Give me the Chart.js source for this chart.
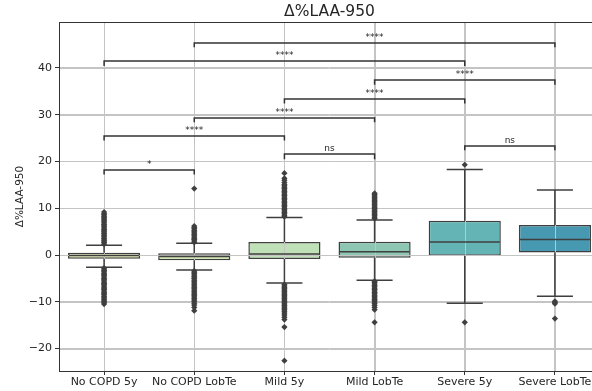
<!DOCTYPE html>
<html>
<head>
<meta charset="utf-8">
<script src="https://cdn.jsdelivr.net/npm/chart.js@4"></script>
<style>
  html, body { margin: 0; padding: 0; overflow: hidden; background: #fff; }
  #wrap { width: 620px; height: 391px; }
</style>
</head>
<body>
<div id="wrap"><canvas id="boxChart"></canvas></div>
<script>
// groups on the x axis
var groups = ["No COPD 5y", "No COPD LobTe", "Mild 5y", "Mild LobTe", "Severe 5y", "Severe LobTe"];
var boxColors = ["#e5efb8", "#d7ecb3", "#c0e1b8", "#8dc6b3", "#64b4b6", "#4799b1"];

// box stats
var q1 = [-0.8, -1.1, -0.85, -0.6, -0.15, 0.55];
var q3 = [0.5, 0.35, 2.8, 2.85, 7.35, 6.4];
var median = [-0.1, -0.3, 0.2, 0.7, 2.8, 3.3];
var whiskLo = [-2.6, -3.2, -6.0, -5.4, -10.3, -8.8];
var whiskHi = [2.1, 2.5, 8.0, 7.5, 18.3, 13.9];

// outliers per group
var outNoCopd5y = [2.3, 2.6, 2.8, 3.1, 3.4, 3.6, 3.9, 4.2, 4.5, 4.7, 5.0, 5.3, 5.5, 5.8, 6.1, 6.4, 6.6, 6.9, 7.2, 7.5, 7.7, 8.0, 8.3, 8.6, 8.8, 9.2,
  -2.8, -3.0, -3.3, -3.6, -3.9, -4.1, -4.4, -4.7, -5.0, -5.2, -5.5, -5.8, -6.1, -6.3, -6.6, -6.9, -7.2, -7.4, -7.7, -8.0, -8.3, -8.5, -8.8, -9.1, -9.4, -9.6, -9.9, -10.2, -10.5];
var outNoCopdLob = [2.7, 3.0, 3.3, 3.5, 3.8, 4.1, 4.4, 4.7, 5.0, 5.3, 5.6, 5.9, 6.2, 14.2,
  -3.4, -3.7, -4.0, -4.3, -4.6, -4.9, -5.1, -5.4, -5.7, -6.0, -6.3, -6.6, -6.9, -7.2, -7.5, -7.8, -8.1, -8.4, -8.7, -9.0, -9.3, -9.6, -9.9, -10.3, -10.7, -11.2, -11.9];
var outMild5y = [8.2, 8.5, 8.8, 9.1, 9.4, 9.7, 10.0, 10.3, 10.6, 10.9, 11.2, 11.5, 11.8, 12.1, 12.4, 12.7, 13.0, 13.3, 13.6, 13.9, 14.2, 14.5, 14.8, 15.1, 15.5, 16.0, 16.4, 17.5,
  -6.3, -6.6, -6.9, -7.2, -7.5, -7.8, -8.1, -8.4, -8.7, -9.0, -9.3, -9.6, -9.9, -10.2, -10.5, -10.8, -11.1, -11.4, -11.7, -12.0, -12.4, -12.8, -13.3, -13.8, -15.4, -22.6];
var outMildLob = [7.8, 8.1, 8.4, 8.7, 9.0, 9.3, 9.6, 9.9, 10.2, 10.5, 10.8, 11.1, 11.4, 11.7, 12.0, 12.3, 12.6, 12.9, 13.2,
  -5.6, -5.9, -6.2, -6.5, -6.8, -7.1, -7.4, -7.7, -8.0, -8.3, -8.6, -8.9, -9.2, -9.5, -9.8, -10.1, -10.4, -10.8, -11.2, -11.7, -14.4];
var outSevere5y = [19.3, -14.4];
var outSevereLob = [-9.9, -10.2, -10.4, -13.6];
var outliers = [outNoCopd5y, outNoCopdLob, outMild5y, outMildLob, outSevere5y, outSevereLob];

// significance brackets
var bracketFrom = [0, 0, 2, 1, 2, 4, 3, 0, 1];
var bracketTo = [1, 2, 3, 3, 4, 5, 5, 4, 5];
var bracketY = [18.2, 25.5, 21.5, 29.4, 33.4, 23.4, 37.4, 41.4, 45.4];
var bracketText = ["*", "****", "ns", "****", "****", "ns", "****", "****", "****"];

var yTicks = [-20, -10, 0, 10, 20, 30, 40];

var gridColor = "#c4c4c4";
var lineColor = "#3f3f3f";
var textColor = "#262626";

Chart.defaults.font.family = "'DejaVu Sans', sans-serif";

var outlierPoints = [];
outliers.forEach(function (list, i) {
  list.forEach(function (v) { outlierPoints.push({x: groups[i], y: v}); });
});

function drawGrid(chart) {
  var ctx = chart.ctx, a = chart.chartArea, x = chart.scales.x, y = chart.scales.y;
  ctx.save();
  ctx.strokeStyle = gridColor;
  ctx.lineWidth = 1;
  ctx.beginPath();
  yTicks.forEach(function (v) {
    var py = Math.round(y.getPixelForValue(v)) + 0.5;
    ctx.moveTo(a.left, py); ctx.lineTo(a.right, py);
  });
  groups.forEach(function (g, i) {
    var px = Math.round(x.getPixelForValue(i)) + 0.5;
    ctx.moveTo(px, a.top); ctx.lineTo(px, a.bottom);
  });
  ctx.stroke();
  ctx.restore();
}

var boxParts = {
  id: "boxParts",
  afterDatasetDraw: function (chart, args) {
    if (args.index !== 0) return;
    // grid shows over the box fills, like the original
    drawGrid(chart);
    var ctx = chart.ctx, x = chart.scales.x, y = chart.scales.y;
    ctx.save();
    ctx.strokeStyle = lineColor;
    ctx.lineWidth = 1.5;
    groups.forEach(function (g, i) {
      var cx = x.getPixelForValue(i);
      var capL = x.getPixelForValue(i - 0.2), capR = x.getPixelForValue(i + 0.2);
      var boxL = x.getPixelForValue(i - 0.4) + 1, boxR = x.getPixelForValue(i + 0.4) - 1;
      var hi = y.getPixelForValue(whiskHi[i]), lo = y.getPixelForValue(whiskLo[i]);
      var md = y.getPixelForValue(median[i]);
      ctx.beginPath();
      ctx.moveTo(cx, y.getPixelForValue(q3[i])); ctx.lineTo(cx, hi);
      ctx.moveTo(capL, hi); ctx.lineTo(capR, hi);
      ctx.moveTo(cx, y.getPixelForValue(q1[i])); ctx.lineTo(cx, lo);
      ctx.moveTo(capL, lo); ctx.lineTo(capR, lo);
      ctx.moveTo(boxL, md); ctx.lineTo(boxR, md);
      ctx.stroke();
    });
    ctx.restore();
  },
  afterDraw: function (chart) {
    var ctx = chart.ctx, a = chart.chartArea, x = chart.scales.x, y = chart.scales.y;
    ctx.save();
    // frame
    ctx.strokeStyle = "#333";
    ctx.lineWidth = 1;
    ctx.strokeRect(Math.round(a.left) + 0.5, Math.round(a.top) + 0.5, Math.round(a.right - a.left), Math.round(a.bottom - a.top));
    // brackets
    ctx.strokeStyle = "#333";
    ctx.lineWidth = 1.5;
    ctx.fillStyle = textColor;
    ctx.font = "9px 'DejaVu Sans'";
    ctx.textAlign = "center";
    ctx.textBaseline = "alphabetic";
    bracketY.forEach(function (v, k) {
      var x1 = x.getPixelForValue(bracketFrom[k]), x2 = x.getPixelForValue(bracketTo[k]);
      var py = Math.round(y.getPixelForValue(v));
      var pt = y.getPixelForValue(v - 1);
      ctx.beginPath();
      ctx.moveTo(x1, pt); ctx.lineTo(x1, py); ctx.lineTo(x2, py); ctx.lineTo(x2, pt);
      ctx.stroke();
      ctx.fillText(bracketText[k], (x1 + x2) / 2, py - 3);
    });
    ctx.restore();
  }
};

new Chart("boxChart", {
  type: "bar",
  data: {
    labels: groups,
    datasets: [
      {
        type: "bar",
        data: groups.map(function (g, i) { return [q1[i], q3[i]]; }),
        backgroundColor: boxColors,
        borderColor: lineColor,
        borderWidth: 1.5,
        borderSkipped: false,
        barPercentage: 0.8,
        categoryPercentage: 1.0,
        order: 1
      },
      {
        type: "scatter",
        data: outlierPoints,
        pointStyle: "rectRot",
        pointRadius: 3.1,
        backgroundColor: lineColor,
        borderWidth: 0,
        order: 0
      }
    ]
  },
  options: {
    responsive: true,
    maintainAspectRatio: false,
    animation: false,
    layout: {padding: {right: 20}},
    plugins: {
      legend: {display: false},
      tooltip: {enabled: false},
      title: {
        display: true,
        text: "Δ%LAA-950",
        fullSize: false,
        color: textColor,
        font: {size: 15.5, weight: "normal"},
        padding: {top: 2.5, bottom: 1}
      }
    },
    scales: {
      x: {
        afterFit: function (s) { s.height = 20; },
        grid: {display: true, offset: false, color: gridColor, tickColor: "#333", tickLength: 4},
        border: {display: false},
        ticks: {color: textColor, font: {size: 11}, padding: 1, maxRotation: 0, autoSkip: false}
      },
      y: {
        min: -24.8,
        max: 49.8,
        afterFit: function (s) { s.width = 59; },
        afterBuildTicks: function (s) { s.ticks = yTicks.map(function (v) { return {value: v}; }); },
        grid: {color: gridColor, tickColor: "#333", tickLength: 4},
        border: {display: false},
        ticks: {
          color: textColor,
          font: {size: 11},
          padding: 3,
          callback: function (v) { return v < 0 ? "\u2212" + Math.abs(v) : String(v); }
        },
        title: {display: true, text: "Δ%LAA-950", color: textColor, font: {size: 10.5}, padding: {top: 13.5, bottom: 0}}
      }
    }
  },
  plugins: [boxParts]
});
</script>
</body>
</html>
